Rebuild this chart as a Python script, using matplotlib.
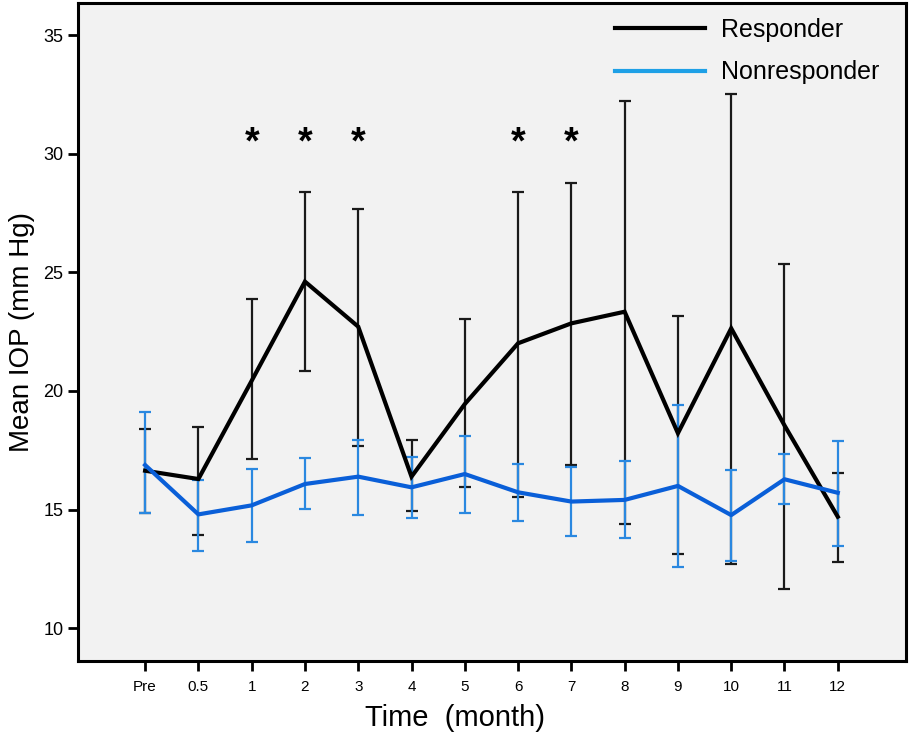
import numpy as np
import matplotlib.pyplot as plt
from matplotlib.lines import Line2D

plt.rcParams['font.family'] = ['Liberation Sans', 'DejaVu Sans']

# time points
months = ['Pre', '0.5', '1', '2', '3', '4', '5', '6', '7', '8', '9', '10', '11', '12']

# responder group: mean and CI bounds
resp_mean = [16.64, 16.29, 20.43, 24.61, 22.71, 16.39, 19.45, 22.01, 22.85, 23.34, 18.22, 22.64, 18.55, 14.70]
resp_low = [14.85, 13.92, 17.13, 20.84, 17.68, 14.94, 15.97, 15.55, 16.88, 14.40, 13.12, 12.71, 11.66, 12.78]
resp_high = [18.39, 18.48, 23.86, 28.37, 27.66, 17.92, 23.03, 28.40, 28.75, 32.23, 23.18, 32.50, 25.34, 16.53]

# nonresponder group
non_mean = [16.88, 14.80, 15.18, 16.08, 16.39, 15.94, 16.50, 15.73, 15.34, 15.41, 16.00, 14.77, 16.28, 15.71]
non_low = [14.85, 13.24, 13.65, 15.03, 14.77, 14.66, 14.87, 14.52, 13.89, 13.79, 12.60, 12.84, 15.23, 13.48]
non_high = [19.13, 16.25, 16.70, 17.19, 17.94, 17.21, 18.10, 16.92, 16.78, 17.05, 19.41, 16.67, 17.35, 17.91]

# significant months (asterisks)
sig_months = ['1', '2', '3', '6', '7']
sig_y = 30.45

x = np.arange(len(months))
resp_mean = np.array(resp_mean)
non_mean = np.array(non_mean)
resp_err = [resp_mean - np.array(resp_low), np.array(resp_high) - resp_mean]
non_err = [non_mean - np.array(non_low), np.array(non_high) - non_mean]

fig = plt.figure(figsize=(9.13, 7.43), dpi=100)
ax = fig.add_axes([0.0854, 0.1103, 0.9069, 0.8857])
ax.set_facecolor('#f2f2f2')

# error bars first
ax.errorbar(x, resp_mean, yerr=resp_err, fmt='none', ecolor='#1a1a1a', elinewidth=1.6,
            capsize=4.5, capthick=1.6, zorder=2)
ax.errorbar(x, non_mean, yerr=non_err, fmt='none', ecolor='#2a88e0', elinewidth=1.6,
            capsize=4.5, capthick=1.6, zorder=3)
ax.plot(x, resp_mean, color='black', lw=3.0, solid_joinstyle='miter', zorder=4)
ax.plot(x, non_mean, color='#0a5fd8', lw=3.0, zorder=5)

for m in sig_months:
    ax.text(months.index(m), sig_y, '*', ha='center', va='center', fontsize=27,
            fontweight='bold', color='black')

ax.set_xlim(-1.26, 14.28)
ax.set_ylim(8.62, 36.35)
ax.set_xticks(x)
ax.set_xticklabels(months, fontsize=11)
ax.set_yticks([10, 15, 20, 25, 30, 35])
ax.tick_params(axis='y', labelsize=13, direction='out', length=7, width=2)
ax.tick_params(axis='x', direction='out', length=7, width=2, pad=7)
for s in ax.spines.values():
    s.set_linewidth(2.2)

ax.set_ylabel('Mean IOP (mm Hg)', fontsize=20, labelpad=6)
ax.set_xlabel('Time  (month)', fontsize=21)
ax.xaxis.set_label_coords(0.455, -0.066)

handles = [Line2D([], [], color='black', lw=3),
           Line2D([], [], color='#1ea0e6', lw=3)]
ax.legend(handles, ['Responder', 'Nonresponder'], loc='upper right', frameon=False,
          fontsize=18, handlelength=3.6, handletextpad=0.65, labelspacing=0.75,
          bbox_to_anchor=(0.995, 1.012))

fig.savefig('out.png', dpi=100)
